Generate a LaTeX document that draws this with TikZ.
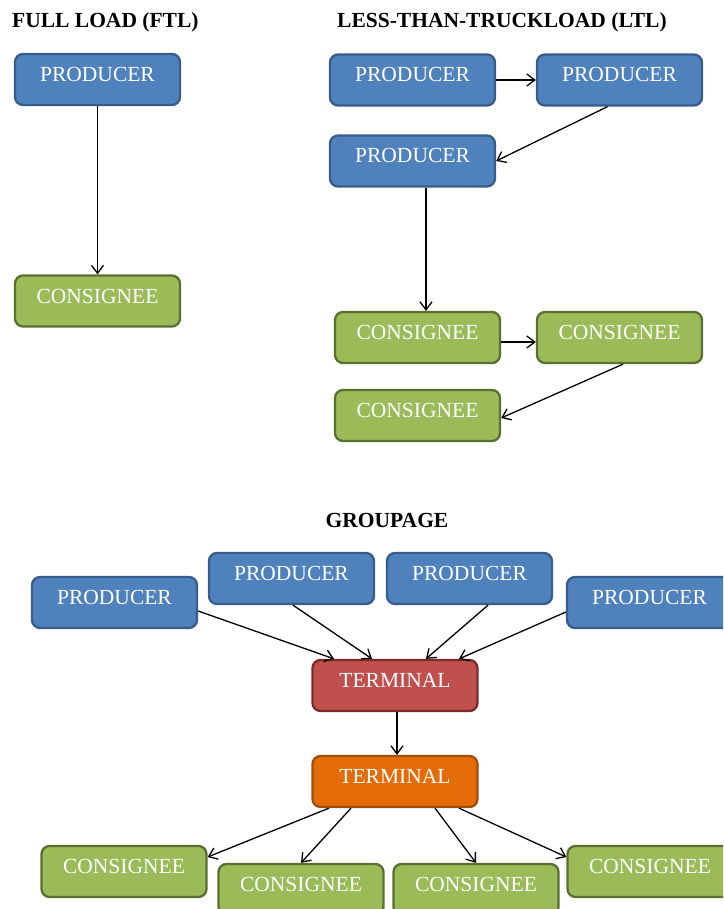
\documentclass[tikz,border=0pt]{standalone}
\usepackage{fontspec}
\setmainfont{Liberation Serif}
\usetikzlibrary{arrows.meta,calc}

\definecolor{prodfill}{HTML}{4F81BD}
\definecolor{prodline}{HTML}{385D8A}
\definecolor{consfill}{HTML}{9BBB59}
\definecolor{consline}{HTML}{5A7030}
\definecolor{termfill}{HTML}{C0504D}
\definecolor{termline}{HTML}{7A2C2A}
\definecolor{hubfill}{HTML}{E36C09}
\definecolor{hubline}{HTML}{A04E0A}

\tikzset{
  box/.style={rectangle, rounded corners=8pt, line width=2.3pt,
    minimum width=165pt, minimum height=51pt, inner sep=0pt,
    text height=27.5pt, text depth=23.5pt, text=white,
    font=\fontsize{21.5}{24}\selectfont},
  producer/.style={box, fill=prodfill, draw=prodline},
  consignee/.style={box, fill=consfill, draw=consline},
  terminal/.style={box, fill=termfill, draw=termline},
  hub/.style={box, fill=hubfill, draw=hubline},
  heading/.style={font=\fontsize{21.5}{24}\selectfont\bfseries, inner sep=0pt},
  arr/.style={line width=1.3pt, -{Straight Barb[length=8pt,width=12pt]}}
}

\begin{document}
\begin{tikzpicture}[x=1pt,y=-1pt]
  \clip (0,0) rectangle (723,909);
  \useasboundingbox (0,0) rectangle (723,909);

  % Full load
  \node[heading, anchor=base west] (ftlhead) at (12,28) {FULL LOAD (FTL)};
  \node[producer] (fp) at (97.5,79.5) {PRODUCER};
  \node[consignee] (fc) at (97.5,301) {CONSIGNEE};
  \draw[arr] (fp.south) -- (fc.north);

  % Less-than-truckload
  \node[heading, anchor=base west] (ltlhead) at (337,28) {LESS-THAN-TRUCKLOAD (LTL)};
  \node[producer] (lp1) at (412.5,80) {PRODUCER};
  \node[producer] (lp2) at (619.5,80) {PRODUCER};
  \node[producer] (lp3) at (412.5,161) {PRODUCER};
  \node[consignee] (lc1) at (417.5,337.5) {CONSIGNEE};
  \node[consignee] (lc2) at (619.5,337.5) {CONSIGNEE};
  \node[consignee] (lc3) at (417.5,415.5) {CONSIGNEE};
  \draw[arr] (lp1.east) -- (lp2.west);
  \draw[arr] ([xshift=-12pt]lp2.south) -- (lp3.east);
  \draw[arr] ([xshift=13.5pt]lp3.south) -- ([xshift=13.5pt]lp3.south |- lc1.north);
  \draw[arr] ([yshift=-4.5pt]lc1.east) -- ([yshift=-4.5pt]lc1.east -| lc2.west);
  \draw[arr] ([xshift=3.5pt]lc2.south) -- ([yshift=-2.5pt]lc3.east);

  % Groupage
  \node[heading, anchor=base] (grphead) at (387,527) {GROUPAGE};
  \node[producer] (gpa) at (114.5,602.5) {PRODUCER};
  \node[producer] (gpb) at (291.5,578.5) {PRODUCER};
  \node[producer] (gpc) at (469.5,578.5) {PRODUCER};
  \node[producer] (gpd) at (649.5,602.5) {PRODUCER};
  \node[terminal] (t1) at (395,685.5) {TERMINAL};
  \node[hub] (t2) at (395,781.5) {TERMINAL};
  \node[consignee] (gca) at (124,871.5) {CONSIGNEE};
  \node[consignee] (gcb) at (301,889.5) {CONSIGNEE};
  \node[consignee] (gcc) at (476,889.5) {CONSIGNEE};
  \node[consignee] (gcd) at (650,871.5) {CONSIGNEE};

  \draw[arr] ([yshift=-8.5pt]gpa.east) -- ([xshift=-61pt]t1.north);
  \draw[arr] ([xshift=1.5pt]gpb.south) -- ([xshift=-23pt]t1.north);
  \draw[arr] ([xshift=18.5pt]gpc.south) -- ([xshift=31pt]t1.north);
  \draw[arr] ([yshift=-9.5pt]gpd.west) -- ([xshift=64pt]t1.north);
  \draw[arr] ([xshift=2pt]t1.south) -- ([xshift=2pt]t1.south |- t2.north);

  \draw[arr] ([xshift=-66pt]t2.south) -- ([yshift=14.5pt]gca.east);
  \draw[arr] ([xshift=-44pt]t2.south) -- (gcb.north);
  \draw[arr] ([xshift=40pt]t2.south) -- (gcc.north);
  \draw[arr] ([xshift=64pt]t2.south) -- ([yshift=14.5pt]gcd.west);
\end{tikzpicture}
\end{document}
